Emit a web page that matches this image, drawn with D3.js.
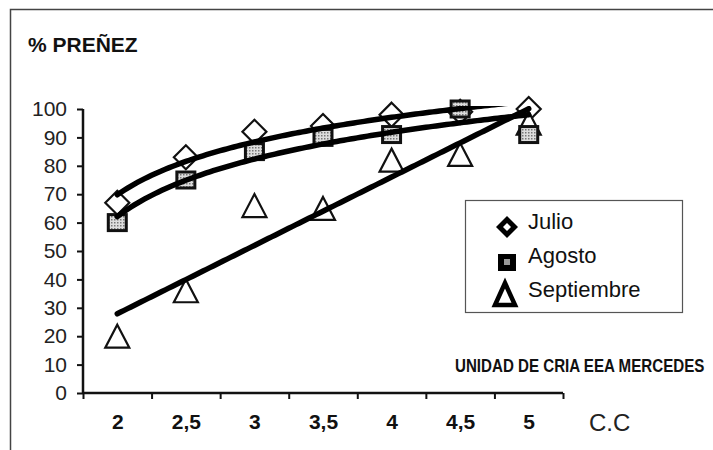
<!DOCTYPE html>
<html><head><meta charset="utf-8">
<script src="https://cdn.jsdelivr.net/npm/d3@7"></script>
<style>body{margin:0;background:#fff}svg{display:block}text{font-family:"Liberation Sans",Arial,sans-serif}</style>
</head><body>
<script>
const categories = ["2","2,5","3","3,5","4","4,5","5"];
const catValues = [2,2.5,3,3.5,4,4.5,5];
const julio = [67,83,92,94,98,99,100];
const agosto = [60,75,85,90,91,100,91];
const septiembre = [20,36,66,65,82,84,95];
const yTicks = [0,10,20,30,40,50,60,70,80,90,100];
const legendLabels = ["Julio","Agosto","Septiembre"];

const W=713,H=450;
const svg=d3.select("body").append("svg").attr("width",W).attr("height",H);
const x=d3.scaleLinear().domain([1.75,5.25]).range([83,563]);
const y=d3.scaleLinear().domain([0,100]).range([393,109]);

// frame
svg.append("path").attr("d","M10.5,450 V9.5 H713").attr("fill","none").attr("stroke","#444").attr("stroke-width",1.5);

svg.append("defs").append("clipPath").attr("id","plot").append("rect")
  .attr("x",83).attr("y",y(100)-3).attr("width",480).attr("height",y(0)-y(100)+3);
const pat=svg.select("defs").append("pattern").attr("id","dots").attr("width",3).attr("height",3).attr("patternUnits","userSpaceOnUse");
pat.append("rect").attr("width",3).attr("height",3).attr("fill","#ddd");
pat.append("rect").attr("width",1.5).attr("height",1.5).attr("fill","#777");

// fits
const idx=d3.range(1,8);
function logFit(v){const lx=idx.map(Math.log);const mx=d3.mean(lx),my=d3.mean(v);
  let sxy=0,sxx=0;lx.forEach((l,i)=>{sxy+=(l-mx)*(v[i]-my);sxx+=(l-mx)*(l-mx);});
  const b=sxy/sxx,a=my-b*mx;return t=>a+b*Math.log(t);}
function linFit(v){const mx=d3.mean(idx),my=d3.mean(v);
  let sxy=0,sxx=0;idx.forEach((t,i)=>{sxy+=(t-mx)*(v[i]-my);sxx+=(t-mx)*(t-mx);});
  const b=sxy/sxx,a=my-b*mx;return t=>a+b*t;}

// axes
const yAxis=svg.append("g").attr("transform","translate(83,0)")
  .call(d3.axisLeft(y).tickValues(yTicks).tickSize(6).tickPadding(10));
yAxis.select(".domain").attr("stroke","#111").attr("stroke-width",2.5).attr("d","M0,"+y(100)+"V"+y(0));
yAxis.selectAll(".tick line").attr("stroke","#111").attr("stroke-width",2);
yAxis.selectAll(".tick text").attr("font-size",21).attr("fill","#222").attr("font-family","Liberation Sans, Arial, sans-serif");

const bounds=d3.range(8).map(i=>1.75+i*0.5);
const xAxis=svg.append("g").attr("transform","translate(0,393)")
  .call(d3.axisBottom(x).tickValues(bounds).tickSize(6).tickFormat(""));
xAxis.select(".domain").attr("stroke","#111").attr("stroke-width",2.5).attr("d","M83,0H563");
xAxis.selectAll(".tick line").attr("stroke","#111").attr("stroke-width",2);
const xLab=svg.append("g").attr("transform","translate(0,393)")
  .call(d3.axisBottom(x).tickValues(catValues).tickSize(0).tickPadding(21).tickFormat((d,i)=>categories[i]));
xLab.select(".domain").remove();
xLab.selectAll(".tick text").attr("font-size",21).attr("font-weight","bold").attr("fill","#111").attr("font-family","Liberation Sans, Arial, sans-serif");

// markers
const gM=svg.append("g");
const diamond=(cx,cy,r)=>`M${cx},${cy-r}L${cx+r},${cy}L${cx},${cy+r}L${cx-r},${cy}Z`;
const tri=(cx,cy,w,h)=>`M${cx},${cy-h/2}L${cx+w/2},${cy+h/2}L${cx-w/2},${cy+h/2}Z`;
julio.forEach((v,i)=>gM.append("path").attr("d",diamond(x(catValues[i]),y(v),12)).attr("fill","#fff").attr("stroke","#111").attr("stroke-width",2.2));
septiembre.forEach((v,i)=>gM.append("path").attr("d",tri(x(catValues[i]),y(v),24,23)).attr("fill","#fff").attr("stroke","#111").attr("stroke-width",2.2));
agosto.forEach((v,i)=>gM.append("rect").attr("x",x(catValues[i])-9).attr("y",y(v)-8).attr("width",18).attr("height",16).attr("fill","url(#dots)").attr("stroke","#111").attr("stroke-width",3));

// trendlines
const gL=svg.append("g").attr("clip-path","url(#plot)");
const tt=d3.range(1,7.001,0.05);
const line=f=>d3.line().x(t=>x(1.5+t*0.5)).y(t=>y(f(t)))(tt);
[logFit(julio),logFit(agosto),linFit(septiembre)].forEach(f=>
  gL.append("path").attr("d",line(f)).attr("fill","none").attr("stroke","#000").attr("stroke-width",5.5).attr("stroke-linecap","round"));

// texts
svg.append("text").attr("x",28).attr("y",52).attr("font-size",21).attr("font-weight","bold").attr("fill","#111").text("% PREÑEZ");
svg.append("text").attr("x",589).attr("y",431).attr("font-size",24).attr("fill","#222").text("C.C");
svg.append("text").attr("transform","translate(455,372) scale(0.86,1)").attr("font-size",17.6).attr("font-weight","bold").attr("fill","#111")
  .text("UNIDAD DE CRIA EEA MERCEDES");

// legend
const lg=svg.append("g");
lg.append("rect").attr("x",465.5).attr("y",200.5).attr("width",217).attr("height",112).attr("fill","#fff").attr("stroke","#555").attr("stroke-width",1.2);
lg.append("path").attr("d",diamond(507,227,11)).attr("fill","#000");
lg.append("path").attr("d",diamond(507,227,4)).attr("fill","#fff");
lg.append("rect").attr("x",498).attr("y",254).attr("width",18).attr("height",17).attr("fill","#000");
lg.append("rect").attr("x",504).attr("y",259).attr("width",6).attr("height",6).attr("fill","#999");
lg.append("path").attr("d",tri(505,294,20,22)).attr("fill","#fff").attr("stroke","#000").attr("stroke-width",4.5).attr("stroke-linejoin","miter");
[229,263,297].forEach((yy,i)=>lg.append("text").attr("x",528).attr("y",yy).attr("font-size",22).attr("fill","#111").text(legendLabels[i]));
</script>
</body></html>
